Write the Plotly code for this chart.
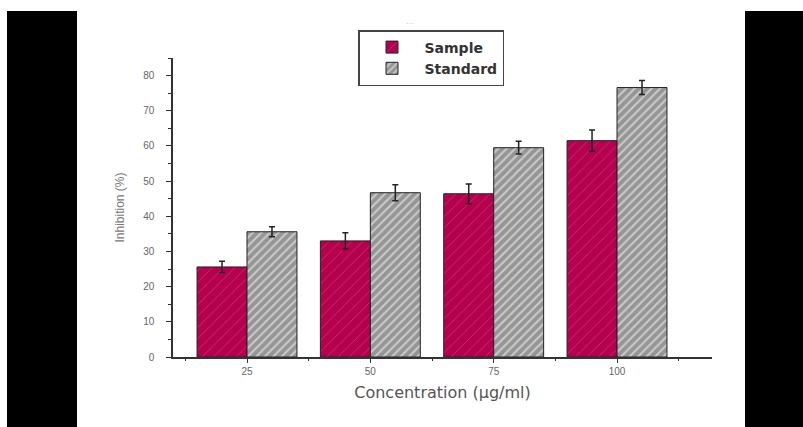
import plotly.graph_objects as go

categories = ["25", "50", "75", "100"]
positions = [1, 2, 3, 4]
sample_vals = [25.6, 33.0, 46.4, 61.5]
sample_err = [1.6, 2.3, 2.8, 3.0]
standard_vals = [35.6, 46.7, 59.5, 76.6]
standard_err = [1.4, 2.3, 1.8, 2.0]
y_ticks = [0, 10, 20, 30, 40, 50, 60, 70, 80]

fig = go.Figure()
fig.add_trace(go.Bar(
    x=positions, y=sample_vals, name="Sample",
    marker=dict(color="#B5004E", line=dict(color="#222", width=1),
                pattern=dict(shape="/", fgcolor="rgba(255,140,190,0.7)", bgcolor="#B5004E",
                             size=8, solidity=0.1)),
    error_y=dict(type="data", array=sample_err, color="#222", thickness=1.5, width=3),
))
fig.add_trace(go.Bar(
    x=positions, y=standard_vals, name="Standard",
    marker=dict(color="#959595", line=dict(color="#222", width=1),
                pattern=dict(shape="/", fgcolor="white", bgcolor="#959595",
                             size=6, solidity=0.35)),
    error_y=dict(type="data", array=standard_err, color="#222", thickness=1.5, width=3),
))

# plot area geometry in pixels: x 173..712, y 58..357
L, R, T, B = 173, 712, 58, 357
W, H = R - L, B - T
def px(x):
    return (x - L) / W
def py(y):
    return (B - y) / H

shapes = [
    dict(type="rect", xref="paper", yref="paper", x0=px(7), x1=px(77), y0=py(427), y1=py(11),
         fillcolor="black", line=dict(width=0), layer="above"),
    dict(type="rect", xref="paper", yref="paper", x0=px(745), x1=px(803), y0=py(427), y1=py(11),
         fillcolor="black", line=dict(width=0), layer="above"),
]

fig.update_layout(
    width=803, height=427,
    margin=dict(l=L, r=803 - R, t=T, b=427 - B),
    paper_bgcolor="white", plot_bgcolor="white",
    barmode="group", bargap=0.19, bargroupgap=0,
    shapes=shapes,
    font=dict(family="Liberation Sans, Arial", color="#555"),
    showlegend=True,
    legend=dict(x=px(358), y=py(30), xanchor="left", yanchor="top",
                bordercolor="#444", borderwidth=1.5, bgcolor="white",
                font=dict(size=14, color="#333", family="DejaVu Sans", weight="bold"),
                itemwidth=55, tracegroupgap=0),
    xaxis=dict(range=[0.4, 4.77], tickmode="array", tickvals=positions, ticktext=categories,
               showline=True, linecolor="#333", linewidth=1.5, ticks="outside", ticklen=4,
               tickcolor="#333", showgrid=False, zeroline=False,
               tickfont=dict(size=10, color="#666"),
               minor=dict(tickvals=[0.5, 1.5, 2.5, 3.5, 4.5], ticks="outside", ticklen=2, tickcolor="#333"),
               title=dict(text="Concentration (µg/ml)", font=dict(size=16, color="#555", family="DejaVu Sans"), standoff=11)),
    yaxis=dict(range=[0, 85], tickmode="array", tickvals=y_ticks,
               showline=True, linecolor="#333", linewidth=1.5, ticks="outside", ticklen=5,
               tickcolor="#333", showgrid=False, zeroline=False,
               tickfont=dict(size=10, color="#666"), ticklabelstandoff=10,
               minor=dict(dtick=5, tick0=0, ticks="outside", ticklen=3, tickcolor="#333"),
               title=dict(text="Inhibition (%)", font=dict(size=12, color="#777"), standoff=16)),
    annotations=[dict(text="···", x=px(410), y=py(17), xref="paper", yref="paper",
                      showarrow=False, font=dict(size=8, color="#bbb"))],
)

fig.write_html("out.html")
